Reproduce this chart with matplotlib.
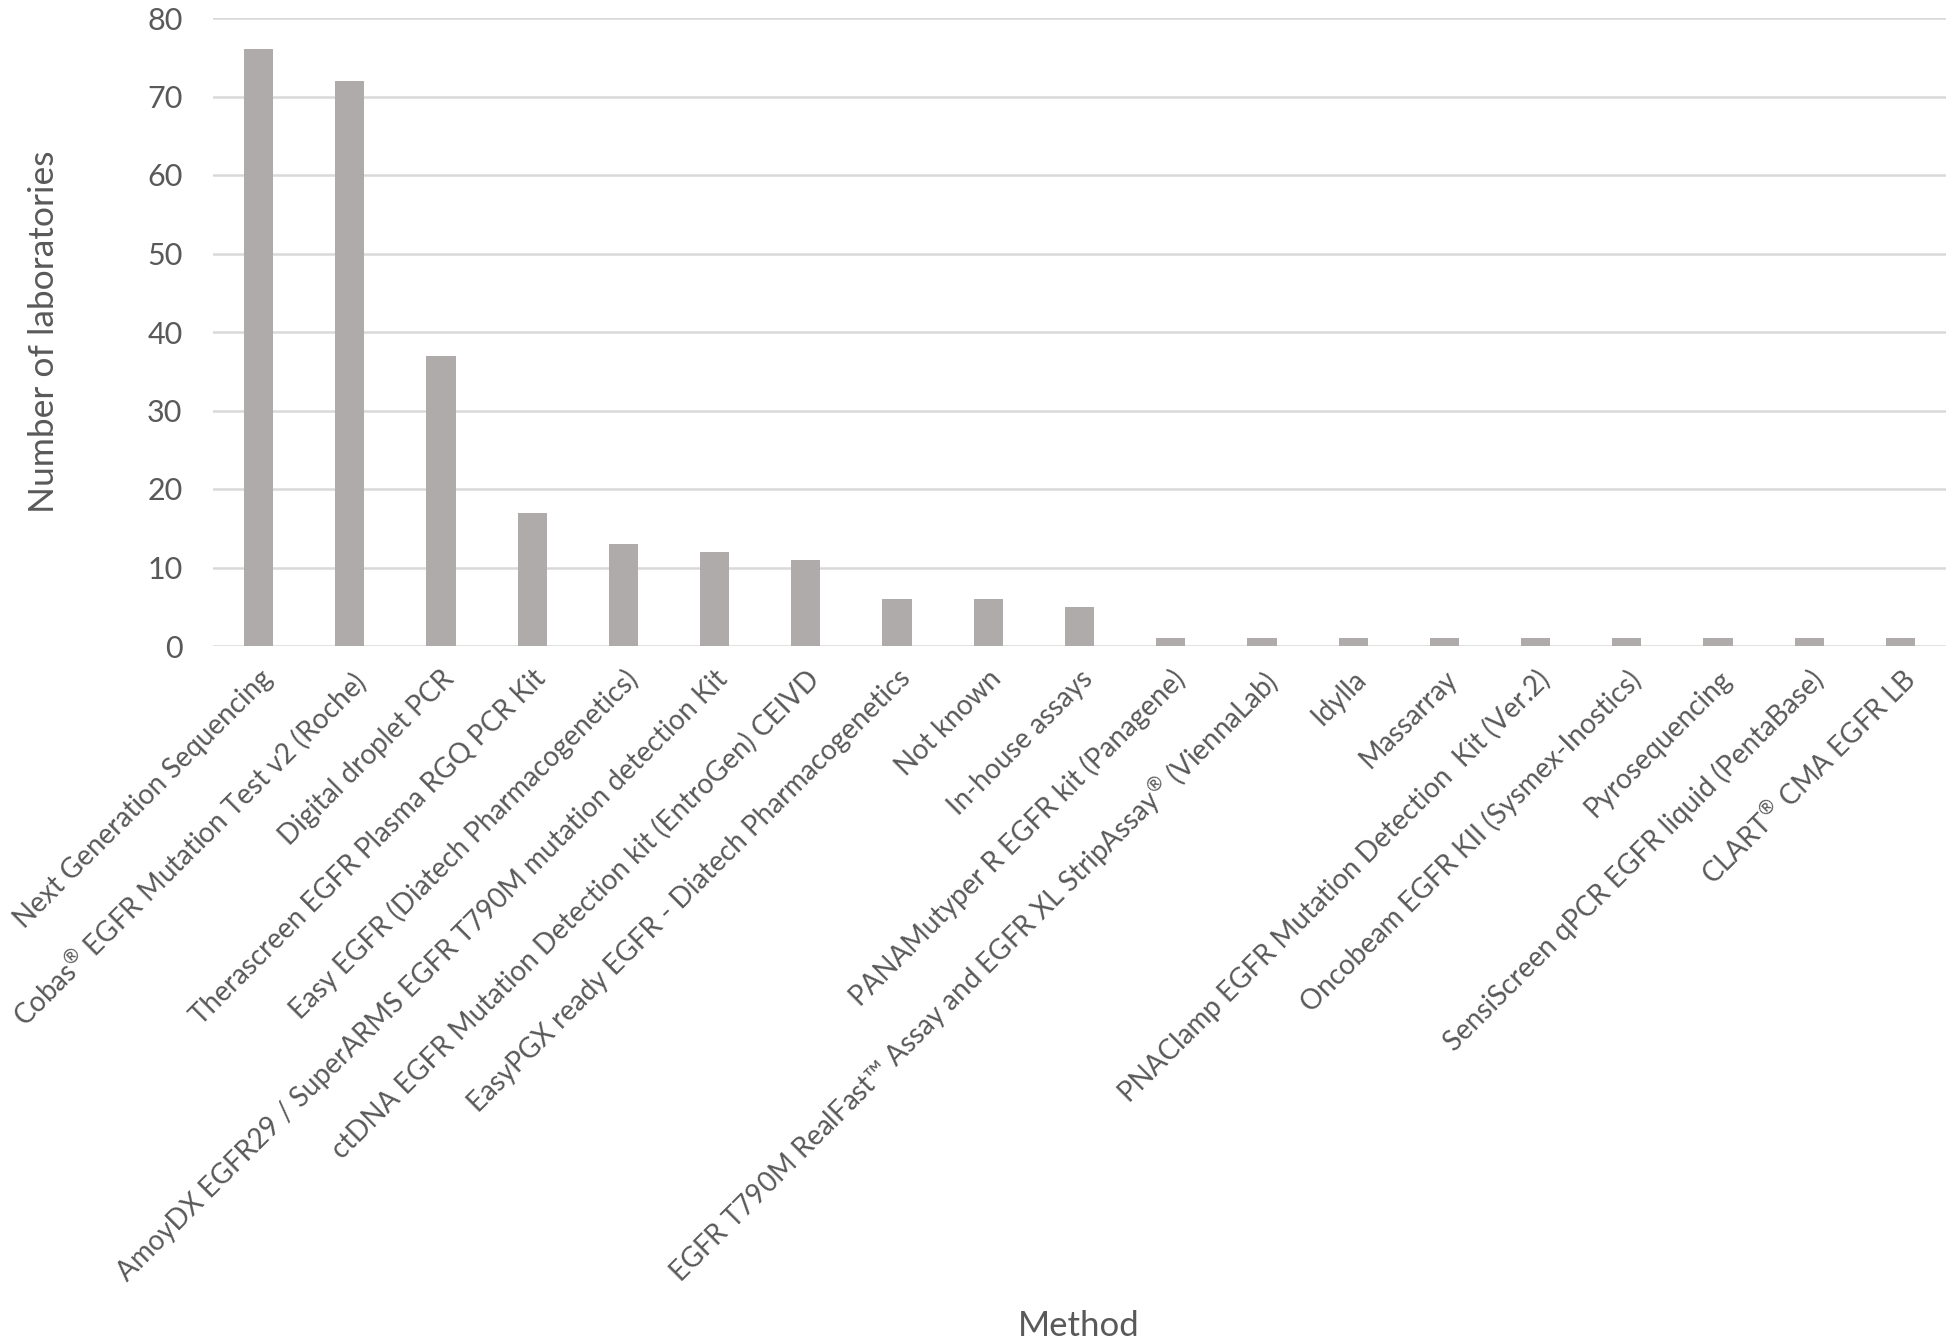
import matplotlib
matplotlib.use("Agg")
import matplotlib.pyplot as plt

plt.rcParams['font.family'] = ['Lato', 'DejaVu Sans']
plt.rcParams['mathtext.fontset'] = 'custom'
plt.rcParams['mathtext.rm'] = 'Lato'
plt.rcParams['mathtext.it'] = 'Lato'

categories = [
    "Next Generation Sequencing",
    r"Cobas$^{\circledR}$ EGFR Mutation Test v2 (Roche)",
    "Digital droplet PCR",
    "Therascreen EGFR Plasma RGQ PCR Kit",
    "Easy EGFR (Diatech Pharmacogenetics)",
    "AmoyDX EGFR29 / SuperARMS EGFR T790M mutation detection Kit",
    "ctDNA EGFR Mutation Detection kit (EntroGen) CEIVD",
    "EasyPGX ready EGFR - Diatech Pharmacogenetics",
    "Not known",
    "In-house assays",
    "PANAMutyper R EGFR kit (Panagene)",
    r"EGFR T790M RealFast™ Assay and EGFR XL StripAssay$^{\circledR}$ (ViennaLab)",
    "Idylla",
    "Massarray",
    "PNAClamp EGFR Mutation Detection  Kit (Ver.2)",
    "Oncobeam EGFR KII (Sysmex-Inostics)",
    "Pyrosequencing",
    "SensiScreen qPCR EGFR liquid (PentaBase)",
    r"CLART$^{\circledR}$ CMA EGFR LB",
]
values = [76, 72, 37, 17, 13, 12, 11, 6, 6, 5, 1, 1, 1, 1, 1, 1, 1, 1, 1]
y_ticks = [0, 10, 20, 30, 40, 50, 60, 70, 80]

W, H = 1952, 1340
fig = plt.figure(figsize=(W / 100, H / 100), dpi=100)
ax = fig.add_axes([213 / W, 1 - 646 / H, (1946 - 213) / W, (646 - 18) / H])

text_color = '#595959'
x = list(range(len(categories)))
ax.bar(x, values, width=0.32, color='#AFABAB', zorder=3)
ax.set_xlim(-0.5, len(categories) - 0.5)
ax.set_ylim(0, 80)
ax.set_yticks(y_ticks)
ax.yaxis.grid(True, color='#D9D9D9', linewidth=1.8, zorder=0)
ax.set_axisbelow(True)
for s in ax.spines.values():
    s.set_visible(False)
ax.tick_params(axis='both', length=0, colors=text_color)
ax.tick_params(axis='y', labelsize=22, pad=22)
ax.set_xticks(x)
ax.set_xticklabels(categories, rotation=45, ha='right', rotation_mode='anchor',
                   fontsize=20, color=text_color)
ax.tick_params(axis='x', pad=14)

fig.text(44 / W, 1 - 332 / H, 'Number of laboratories', rotation=90,
         ha='center', va='center', fontsize=25.5, color=text_color)
fig.text(1079 / W, 1 - 1326 / H, 'Method', ha='center', va='center',
         fontsize=25, color=text_color)

fig.savefig('out.png', dpi=100, facecolor='white')
